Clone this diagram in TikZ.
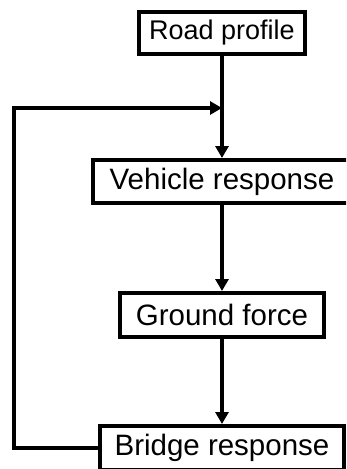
\documentclass[tikz,border=0pt]{standalone}
\usepackage{fontspec}
\setmainfont{Liberation Sans}
\usetikzlibrary{arrows.meta}
\tikzset{
  box/.style={draw=black, line width=4pt, fill=white, rectangle, inner sep=0pt, font=\fontsize{29.5}{32}\selectfont},
  arr/.style={line width=4pt, -{Triangle[length=12pt,width=13pt]}},
  link/.style={line width=4pt}
}
\begin{document}
\begin{tikzpicture}[x=1pt,y=-1pt]
\useasboundingbox (0,0) rectangle (346,469);
\clip (0,0) rectangle (346,469);
\node[box, minimum width=166pt, minimum height=42pt, font=\fontsize{27}{30}\selectfont] (road) at (222,33) {Road profile};
\node[box, minimum width=258pt, minimum height=43pt] (veh) at (222,181.5) {Vehicle response};
\node[box, minimum width=204pt, minimum height=44pt] (gnd) at (222,315) {Ground force};
\node[box, minimum width=244pt, minimum height=44pt] (brg) at (222,448) {Bridge response};
\coordinate (corner) at (14,108);
\coordinate (join) at (222,108);
\draw[arr] (road) -- (veh);
\draw[arr] (veh) -- (gnd);
\draw[arr] (gnd) -- (brg);
\draw[arr, line join=miter] (brg.west) -| (corner) -- (join);
\end{tikzpicture}
\end{document}
